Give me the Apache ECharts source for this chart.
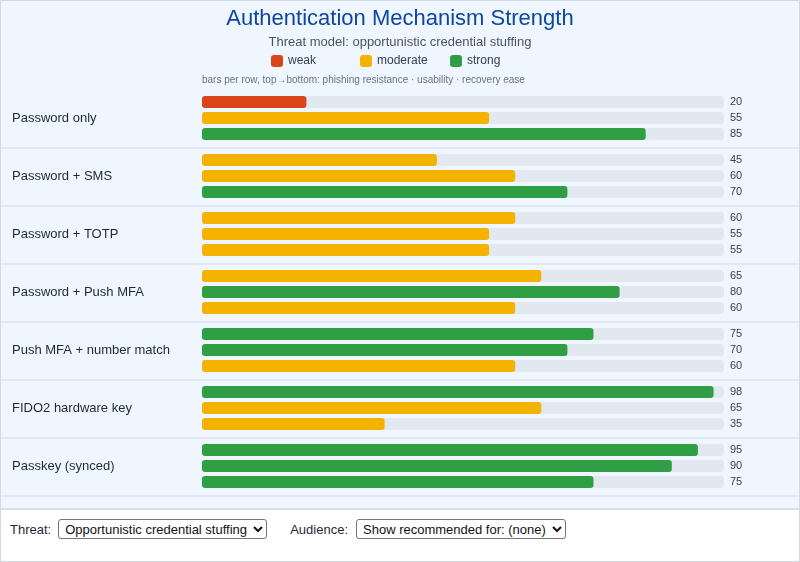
<!DOCTYPE html>
<html>
<head>
<meta charset="utf-8">
<script src="https://cdn.jsdelivr.net/npm/echarts@6/dist/echarts.min.js"></script>
<style>
  html, body { margin: 0; padding: 0; background: #fff; }
  #wrap { width: 798px; height: 560px; border: 1px solid #d4d9e0; font-family: "Liberation Sans", Arial, sans-serif; }
  #chart { width: 798px; height: 507px; background: #eff6ff; border-bottom: 2px solid #d7dde5; }
  #controls { padding: 9px 9px; font-size: 13px; color: #1f2937; display: flex; align-items: center; }
  #controls select { font: 13px "Liberation Sans", Arial, sans-serif; height: 20px; color: #111; background: #fff; border: 1px solid #767676; border-radius: 3px; padding: 0 2px; box-sizing: border-box; }
  #sel1 { width: 209px; margin-left: 7px; margin-right: 23px; }
  #sel2 { width: 210px; margin-left: 8px; }
</style>
</head>
<body>
<div id="wrap">
  <div id="chart"></div>
  <div id="controls">
    <label>Threat:</label>
    <select id="sel1"><option>Opportunistic credential stuffing</option></select>
    <label>Audience:</label>
    <select id="sel2"><option>Show recommended for: (none)</option></select>
  </div>
</div>
<script>
const mechanisms = ["Password only", "Password + SMS", "Password + TOTP", "Password + Push MFA", "Push MFA + number match", "FIDO2 hardware key", "Passkey (synced)"];
const phishingResistance = [20, 45, 60, 65, 75, 98, 95];
const usability = [55, 60, 55, 80, 70, 65, 90];
const recoveryEase = [85, 70, 55, 60, 60, 35, 75];
const metricNames = ["phishing resistance", "usability", "recovery ease"];
const levelNames = ["weak", "moderate", "strong"];
const levelColors = ["#d9441a", "#f3b300", "#2f9e44"];

function levelColor(v) {
  if (v < 30) return levelColors[0];
  if (v < 70) return levelColors[1];
  return levelColors[2];
}

const FONT = 'Liberation Sans, Arial, sans-serif';
const metrics = [phishingResistance, usability, recoveryEase];
const series = [];
metrics.forEach((arr, i) => {
  series.push({
    name: metricNames[i],
    type: 'bar',
    stack: 'm' + i,
    data: arr,
    barWidth: 12,
    barGap: '33.3%',
    silent: true,
    showBackground: true,
    backgroundStyle: { color: '#e2e8f0', borderRadius: 4 },
    itemStyle: { color: p => levelColor(p.value), borderRadius: 3 },
    z: 3
  });
  series.push({
    name: metricNames[i] + ' rest',
    type: 'bar',
    stack: 'm' + i,
    data: arr.map(v => 100 - v),
    barWidth: 12,
    barGap: '33.3%',
    silent: true,
    itemStyle: { color: 'rgba(0,0,0,0)' },
    label: {
      show: true, position: 'right', distance: 6,
      formatter: p => String(arr[p.dataIndex]),
      color: '#374151', fontSize: 11, fontFamily: FONT
    },
    z: 2
  });
});
levelNames.forEach((n, i) => {
  series.push({ name: n, type: 'line', data: [], itemStyle: { color: levelColors[i] }, xAxisIndex: 0, yAxisIndex: 0 });
});

const legendLefts = [270, 359, 449];
const legends = levelNames.map((n, i) => ({
  data: [n],
  top: 54, left: legendLefts[i], padding: 0,
  icon: 'roundRect', itemWidth: 12, itemHeight: 12,
  selectedMode: false,
  textStyle: { color: '#334155', fontSize: 12, fontFamily: FONT }
}));

const chart = echarts.init(document.getElementById('chart'), null, { renderer: 'canvas' });
chart.setOption({
  backgroundColor: '#eff6ff',
  animation: false,
  title: {
    text: 'Authentication Mechanism Strength',
    subtext: 'Threat model: opportunistic credential stuffing',
    left: 'center', top: 7, itemGap: 6, padding: 0,
    textStyle: { color: '#0d47a1', fontSize: 22, fontWeight: 'normal', fontFamily: FONT },
    subtextStyle: { color: '#475569', fontSize: 13, fontFamily: FONT }
  },
  legend: legends,
  graphic: [{
    type: 'text', left: 201, top: 74,
    style: { text: 'bars per row, top\u2192bottom: ' + metricNames.join(' \u00b7 '), fill: '#64748b', fontSize: 10, fontFamily: FONT }
  }],
  grid: [
    { left: 201, right: 75, top: 88, height: 406 },
    { left: 0, right: 0, top: 89, height: 406 }
  ],
  xAxis: [
    { gridIndex: 0, type: 'value', min: 0, max: 100, show: false },
    { gridIndex: 1, type: 'value', min: 0, max: 100, show: false }
  ],
  yAxis: [
    {
      gridIndex: 0, type: 'category', data: mechanisms, inverse: true,
      axisLine: { show: false }, axisTick: { show: false }, splitLine: { show: false },
      axisLabel: { align: 'left', margin: 190, color: '#1f2937', fontSize: 13, fontFamily: FONT }
    },
    {
      gridIndex: 1, type: 'category', data: mechanisms, inverse: true,
      axisLine: { show: false }, axisTick: { show: false }, axisLabel: { show: false },
      splitLine: { show: true, showMinLine: false, showMaxLine: true, lineStyle: { color: '#e2e8f0', width: 2 } }
    }
  ],
  series: series
});
</script>
</body>
</html>
